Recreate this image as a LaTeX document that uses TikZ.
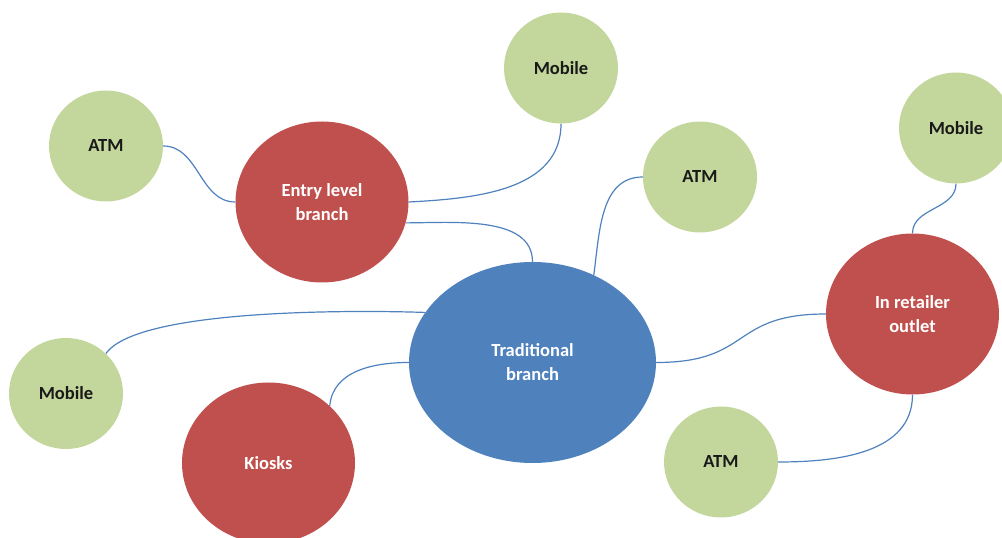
\documentclass[tikz,border=0pt]{standalone}
\usepackage{fontspec}
\setmainfont{Carlito}
\usetikzlibrary{backgrounds, shapes.geometric}
\definecolor{myGreen}{HTML}{C3D69B}
\definecolor{myRed}{HTML}{C0504D}
\definecolor{myBlue}{HTML}{4F81BD}

\begin{document}
\begin{tikzpicture}[x=1pt, y=1pt,
                    my node/.style={
                      ellipse, inner sep=0pt, align=center,
                      font=\fontsize{18.5}{24}\selectfont\bfseries},
                    my hub/.style={
                      my node, fill=myBlue, text=white,
                      minimum width=247pt, minimum height=201pt},
                    my branch/.style={
                      my node, fill=myRed, text=white,
                      minimum width=173pt, minimum height=161pt},
                    my channel/.style={
                      my node, fill=myGreen, text=black!90,
                      minimum width=114pt, minimum height=111pt},
                    my link/.style={color=myBlue, line width=1.2pt}]

\useasboundingbox (0,0) rectangle (1002,538);
\clip (0,0) rectangle (1002,538);

% centre et agences
\node [my hub]    (trad)   at (532.5,175.5) {Traditional\\branch};
\node [my branch] (entry)  at (322,336)     {Entry level\\branch};
\node [my branch] (kiosks) at (268.5,75)    {Kiosks};
\node [my branch] (retail) at (912.5,224)   {In retailer\\outlet};

% canaux
\node [my channel] (mobT) at (561,470)   {Mobile};
\node [my channel] (atmL) at (106,392)   {ATM};
\node [my channel] (atmM) at (700,361)   {ATM};
\node [my channel] (mobR) at (956,410)   {Mobile};
\node [my channel] (mobL) at (66,144.5)  {Mobile};
\node [my channel] (atmB) at (721,76)    {ATM};

% les liens passent sous les bulles
\begin{scope}[on background layer={my link}]
  \draw (atmL.east)  to[out=0, in=180]           (entry.west);
  \draw (entry.east) to[out=3, in=-90]           (mobT.south);
  \draw (entry.-14)  to[out=0, in=90, looseness=0.9] (trad.north);
  \draw (atmM.west)  to[out=180, in=82]          (trad.55);
  \draw (mobL.45)    to[out=55, in=178, looseness=0.45] (trad.155);
  \draw (kiosks.43)  to[out=85, in=180]          (trad.west);
  \draw (trad.east)  to[out=0, in=180, looseness=1.4] (retail.west);
  \draw (mobR.south) to[out=-90, in=90]          (retail.north);
  \draw (retail.south) to[out=-90, in=0]         (atmB.east);
\end{scope}
\end{tikzpicture}
\end{document}
